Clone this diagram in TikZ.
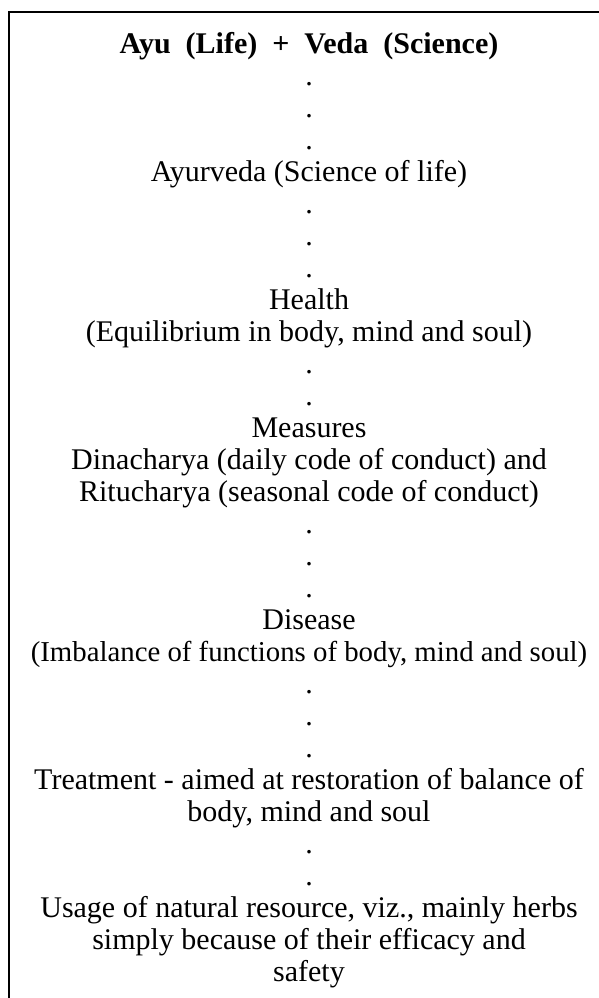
\documentclass[tikz,border=0pt]{standalone}
\usepackage{fontspec}
\setmainfont{Liberation Serif}
\begin{document}
\begin{tikzpicture}[x=1pt,y=1pt,
  txt/.style={font=\fontsize{30}{32}\selectfont, anchor=base, inner sep=0pt},
  txtn/.style={font=\fontsize{28.8}{32}\selectfont, anchor=base, inner sep=0pt},
  ttl/.style={font=\fontsize{30}{32}\selectfont\bfseries, anchor=base, inner sep=0pt},
  dotn/.style={txt},
  frame/.style={line width=1.4pt, line cap=rect}]
\useasboundingbox (0,0) rectangle (599,-998);
\def\cx{309}
\coordinate (fa) at (9,-998);
\coordinate (fb) at (9,-12);
\coordinate (fc) at (600,-12);
\draw[frame] (fa) -- (fb) -- (fc);
\node[ttl] (title) at (\cx,-53) {Ayu\ \ (Life)\ \ +\ \ Veda\ \ (Science)};
\node[dotn] (d1) at (\cx,-85) {.};
\node[dotn] (d2) at (\cx,-117) {.};
\node[dotn] (d3) at (\cx,-149) {.};
\node[txt] (ayur) at (\cx,-181) {Ayurveda (Science of life)};
\node[dotn] (d4) at (\cx,-213) {.};
\node[dotn] (d5) at (\cx,-245) {.};
\node[dotn] (d6) at (\cx,-277) {.};
\node[txt] (health) at (\cx,-309) {Health};
\node[txt] (health2) at (\cx,-341) {(Equilibrium in body, mind and soul)};
\node[dotn] (d7) at (\cx,-373) {.};
\node[dotn] (d8) at (\cx,-405) {.};
\node[txt] (meas) at (\cx,-437) {Measures};
\node[txt] (meas2) at (\cx,-469) {Dinacharya (daily code of conduct) and};
\node[txt] (meas3) at (\cx,-501) {Ritucharya (seasonal code of conduct)};
\node[dotn] (d9) at (\cx,-533) {.};
\node[dotn] (d10) at (\cx,-565) {.};
\node[dotn] (d11) at (\cx,-597) {.};
\node[txt] (dis) at (\cx,-629) {Disease};
\node[txtn] (dis2) at (\cx,-661) {(Imbalance of functions of body, mind and soul)};
\node[dotn] (d12) at (\cx,-693) {.};
\node[dotn] (d13) at (\cx,-725) {.};
\node[dotn] (d14) at (\cx,-757) {.};
\node[txt] (treat) at (\cx,-789) {Treatment - aimed at restoration of balance of};
\node[txt] (treat2) at (\cx,-821) {body, mind and soul};
\node[dotn] (d15) at (\cx,-853) {.};
\node[dotn] (d16) at (\cx,-885) {.};
\node[txt] (usage) at (\cx,-917) {Usage of natural resource, viz., mainly herbs};
\node[txt] (usage2) at (\cx,-949) {simply because of their efficacy and};
\node[txt] (usage3) at (\cx,-981) {safety};
\end{tikzpicture}
\end{document}
